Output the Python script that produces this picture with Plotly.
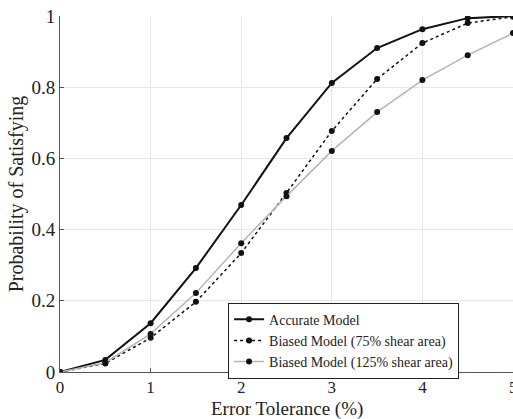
import plotly.graph_objects as go

x_vals = [0, 0.5, 1, 1.5, 2, 2.5, 3, 3.5, 4, 4.5, 5]
accurate = [0.0, 0.034, 0.137, 0.292, 0.469, 0.657, 0.812, 0.91, 0.963, 0.994, 1.0]
biased_75 = [0.0, 0.024, 0.096, 0.197, 0.334, 0.503, 0.677, 0.823, 0.924, 0.98, 0.998]
biased_125 = [0.0, 0.026, 0.107, 0.222, 0.362, 0.494, 0.621, 0.73, 0.82, 0.89, 0.952]
names = ["Accurate Model", "Biased Model (75% shear area)", "Biased Model (125% shear area)"]
x_ticks = [0, 1, 2, 3, 4, 5]
y_ticks = [0, 0.2, 0.4, 0.6, 0.8, 1]
y_tick_text = ["0", "0.2", "0.4", "0.6", "0.8", "1"]
x_title = "Error Tolerance (%)"
y_title = "Probability of Satisfying"

font_family = "Liberation Serif"
text_color = "#222222"

fig = go.Figure()
fig.add_trace(go.Scatter(x=x_vals, y=accurate, name=names[0], mode="lines+markers",
                         line=dict(color="#111111", width=2),
                         marker=dict(color="#111111", size=6)))
fig.add_trace(go.Scatter(x=x_vals, y=biased_75, name=names[1], mode="lines+markers",
                         line=dict(color="#111111", width=1.5, dash="dot"),
                         marker=dict(color="#111111", size=6)))
fig.add_trace(go.Scatter(x=x_vals, y=biased_125, name=names[2], mode="lines+markers",
                         line=dict(color="#b5b5b5", width=1.5),
                         marker=dict(color="#111111", size=6)))

# the rightmost tick label sits on the window edge (half cut off in the reference)
fig.add_annotation(x=x_ticks[-1], y=0, xref="x", yref="paper", text=str(x_ticks[-1]),
                   showarrow=False, yanchor="top", yshift=-4,
                   font=dict(family=font_family, size=17, color=text_color))
# x-axis title placed at the very bottom of the page
fig.add_annotation(x=0.5, y=-47 / 356, xref="paper", yref="paper", text=x_title,
                   showarrow=False, yanchor="bottom", yshift=-3,
                   font=dict(family=font_family, size=19, color=text_color))

fig.update_layout(
    width=513, height=419,
    margin=dict(l=60, r=0, t=16, b=47),
    paper_bgcolor="white", plot_bgcolor="white",
    font=dict(family=font_family, color=text_color, size=18),
    showlegend=True,
    legend=dict(x=0.371, y=0.195, xanchor="left", yanchor="top",
                bgcolor="white", bordercolor="#222222", borderwidth=1,
                font=dict(size=14, family=font_family), tracegroupgap=0,
                itemwidth=30),
    xaxis=dict(range=[0, 5], tickvals=x_ticks[:-1], ticktext=[str(t) for t in x_ticks[:-1]],
               showgrid=True, gridcolor="#e6e6e6", gridwidth=1,
               showline=True, linecolor="#555555", linewidth=1,
               ticks="inside", ticklen=4, tickcolor="#555555",
               zeroline=False, tickfont=dict(size=17)),
    yaxis=dict(range=[0, 1], tickvals=y_ticks, ticktext=y_tick_text,
               showgrid=True, gridcolor="#e6e6e6", gridwidth=1,
               showline=True, linecolor="#555555", linewidth=1,
               ticks="inside", ticklen=4, tickcolor="#555555",
               zeroline=False, tickfont=dict(size=19),
               title=dict(text=y_title, standoff=2, font=dict(size=20))),
)

fig.write_html("out.html")
